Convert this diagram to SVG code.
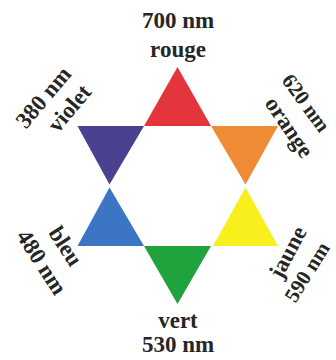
<svg xmlns="http://www.w3.org/2000/svg" width="336" height="360" viewBox="0 0 336 360">
<style>
text{font-family:"Liberation Serif","Times New Roman",serif;font-weight:bold;font-size:23px;fill:#262626;text-anchor:middle}
.sm{font-size:21px}
</style>
<rect width="336" height="360" fill="#fff"/>
<g id="connectors"></g>
<g id="rouge">
<polygon points="177.5,67 144,126 211,126" fill="#e3353b"/>
<text x="178" y="28">700 nm</text>
<text x="178" y="57">rouge</text>
</g>
<g id="violet">
<polygon points="77.5,126 144,126 109.5,184.5" fill="#4b4191"/>
<text transform="translate(69,108) rotate(-50)" dy="8">violet</text>
<text transform="translate(43,97) rotate(-50)" dy="8">380 nm</text>
</g>
<g id="orange">
<polygon points="211,126 278,126 245.5,184.5" fill="#f08b35"/>
<text transform="translate(288,128) rotate(56)" dy="6">orange</text>
<text class="sm" transform="translate(306,103) rotate(54)" dy="7">620 nm</text>
</g>
<g id="bleu">
<polygon points="109.5,187.5 77.5,246 144,246" fill="#3b75c3"/>
<text transform="translate(66,246) rotate(57)" dy="8">bleu</text>
<text transform="translate(42,262) rotate(57)" dy="8">480 nm</text>
</g>
<g id="jaune">
<polygon points="245.5,187.5 213,246 278,246" fill="#f8ef1c"/>
<text transform="translate(289,253) rotate(-62)" dy="6">jaune</text>
<text class="sm" transform="translate(307,272) rotate(-58)" dy="7">590 nm</text>
</g>
<g id="vert">
<polygon points="144,246 211,246 177.5,304" fill="#20a23d"/>
<text x="178" y="328">vert</text>
<text x="178" y="352">530 nm</text>
</g>
</svg>
